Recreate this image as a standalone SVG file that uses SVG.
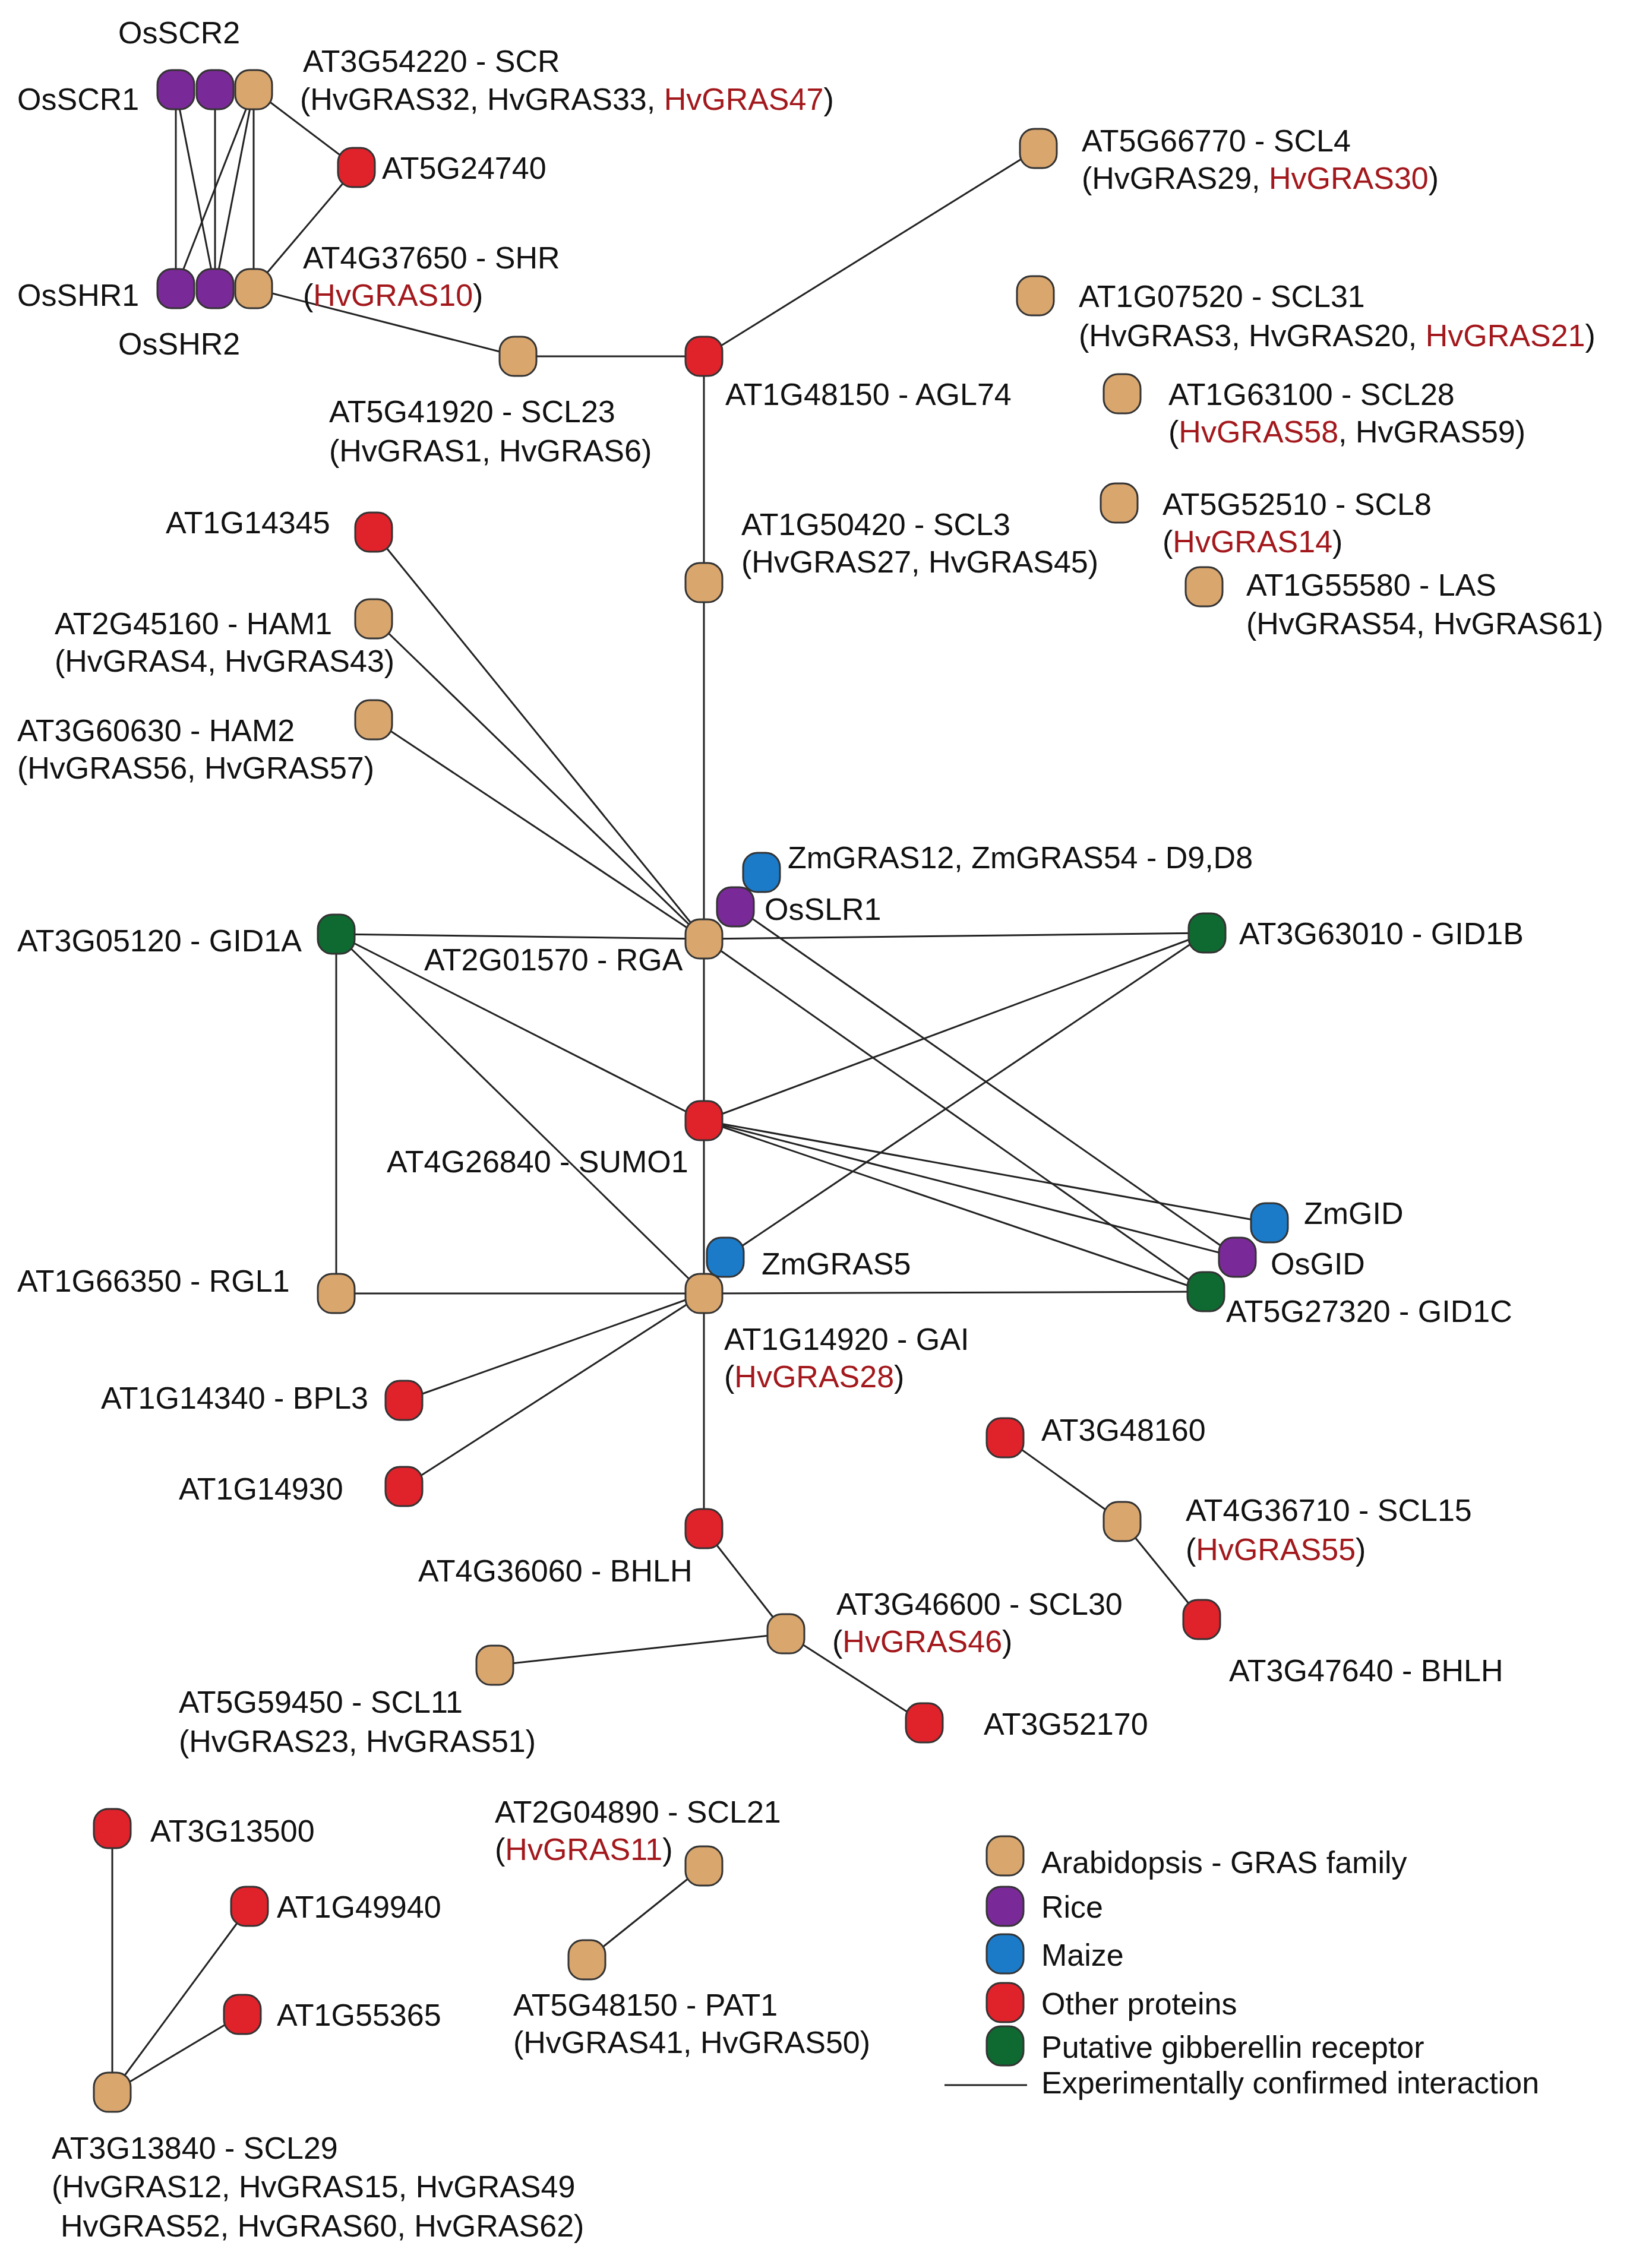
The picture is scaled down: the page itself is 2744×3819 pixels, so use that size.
<svg xmlns="http://www.w3.org/2000/svg" width="2744" height="3819" viewBox="0 0 2744 3819">
<style>
text{font-family:"Liberation Sans",Arial,sans-serif;font-size:52px;fill:#111}
.h{fill:#a3181c}
.n{stroke:#333;stroke-width:3}
.t{fill:#d9a66e}.p{fill:#7a2a98}.b{fill:#1b7bc9}.r{fill:#e0222b}.g{fill:#0e6a30}
#edges line{stroke:#222;stroke-width:3}
</style>
<defs><rect id="nd" x="-31" y="-33" width="62" height="66" rx="24"/></defs>
<rect width="2744" height="3819" fill="#fff"/>
<g id="edges">
<line x1="296" y1="151" x2="296" y2="486"/><line x1="296" y1="151" x2="362" y2="486"/>
<line x1="362" y1="151" x2="362" y2="486"/><line x1="427" y1="151" x2="296" y2="486"/>
<line x1="427" y1="151" x2="362" y2="486"/><line x1="427" y1="151" x2="427" y2="486"/>
<line x1="427" y1="151" x2="600" y2="282"/><line x1="600" y1="282" x2="427" y2="486"/>
<line x1="427" y1="486" x2="872" y2="600"/><line x1="872" y1="600" x2="1185" y2="600"/>
<line x1="1185" y1="600" x2="1748" y2="250"/><line x1="1185" y1="600" x2="1185" y2="2574"/>
<line x1="629" y1="896" x2="1185" y2="1581"/><line x1="629" y1="1042" x2="1185" y2="1581"/>
<line x1="629" y1="1212" x2="1185" y2="1581"/>
<line x1="566" y1="1573" x2="1185" y2="1581"/><line x1="1185" y1="1581" x2="2032" y2="1571"/>
<line x1="566" y1="1573" x2="1185" y2="1887"/><line x1="566" y1="1573" x2="1185" y2="2178"/>
<line x1="566" y1="1573" x2="566" y2="2178"/>
<line x1="1185" y1="1887" x2="2032" y2="1571"/><line x1="1185" y1="1887" x2="2137" y2="2059"/>
<line x1="1185" y1="1887" x2="2083" y2="2117"/><line x1="1185" y1="1887" x2="2030" y2="2175"/>
<line x1="1185" y1="1581" x2="2030" y2="2175"/><line x1="1238" y1="1527" x2="2083" y2="2117"/>
<line x1="1221" y1="2117" x2="2032" y2="1571"/>
<line x1="566" y1="2178" x2="1185" y2="2178"/><line x1="1185" y1="2178" x2="2030" y2="2175"/>
<line x1="1185" y1="2178" x2="680" y2="2358"/><line x1="1185" y1="2178" x2="680" y2="2503"/>
<line x1="1185" y1="2574" x2="1323" y2="2751"/><line x1="1323" y1="2751" x2="833" y2="2804"/>
<line x1="1323" y1="2751" x2="1556" y2="2901"/>
<line x1="1692" y1="2421" x2="1889" y2="2562"/><line x1="1889" y1="2562" x2="2023" y2="2727"/>
<line x1="189" y1="3523" x2="189" y2="3079"/><line x1="189" y1="3523" x2="420" y2="3210"/>
<line x1="189" y1="3523" x2="408" y2="3392"/>
<line x1="1185" y1="3142" x2="988" y2="3300"/>
<line x1="1590" y1="3511" x2="1729" y2="3511"/>
</g>
<g id="OsSCR1"><use href="#nd" class="n p" x="296" y="151"/><text x="29" y="185">OsSCR1</text></g>
<g id="OsSCR2"><use href="#nd" class="n p" x="362" y="151"/><text x="199" y="73">OsSCR2</text></g>
<g id="SCR"><use href="#nd" class="n t" x="427" y="151"/><text x="510" y="121">AT3G54220 - SCR</text><text x="505" y="185">(HvGRAS32, HvGRAS33, <tspan class="h">HvGRAS47</tspan>)</text></g>
<g id="OsSHR1"><use href="#nd" class="n p" x="296" y="486"/><text x="29" y="515">OsSHR1</text></g>
<g id="OsSHR2"><use href="#nd" class="n p" x="362" y="486"/><text x="199" y="597">OsSHR2</text></g>
<g id="SHR"><use href="#nd" class="n t" x="427" y="486"/><text x="510" y="452">AT4G37650 - SHR</text><text x="510" y="515">(<tspan class="h">HvGRAS10</tspan>)</text></g>
<g id="AT5G24740"><use href="#nd" class="n r" x="600" y="282"/><text x="643" y="301">AT5G24740</text></g>
<g id="SCL23"><use href="#nd" class="n t" x="872" y="600"/><text x="554" y="711">AT5G41920 - SCL23</text><text x="554" y="777">(HvGRAS1, HvGRAS6)</text></g>
<g id="AGL74"><use href="#nd" class="n r" x="1185" y="600"/><text x="1221" y="682">AT1G48150 - AGL74</text></g>
<g id="SCL4"><use href="#nd" class="n t" x="1748" y="250"/><text x="1821" y="255">AT5G66770 - SCL4</text><text x="1821" y="318">(HvGRAS29, <tspan class="h">HvGRAS30</tspan>)</text></g>
<g id="SCL31"><use href="#nd" class="n t" x="1743" y="498"/><text x="1816" y="517">AT1G07520 - SCL31</text><text x="1816" y="583">(HvGRAS3, HvGRAS20, <tspan class="h">HvGRAS21</tspan>)</text></g>
<g id="SCL28"><use href="#nd" class="n t" x="1889" y="663"/><text x="1967" y="682">AT1G63100 - SCL28</text><text x="1967" y="745">(<tspan class="h">HvGRAS58</tspan>, HvGRAS59)</text></g>
<g id="SCL8"><use href="#nd" class="n t" x="1884" y="847"/><text x="1957" y="867">AT5G52510 - SCL8</text><text x="1957" y="930">(<tspan class="h">HvGRAS14</tspan>)</text></g>
<g id="LAS"><use href="#nd" class="n t" x="2027" y="988"/><text x="2098" y="1003">AT1G55580 - LAS</text><text x="2098" y="1068">(HvGRAS54, HvGRAS61)</text></g>
<g id="AT1G14345"><use href="#nd" class="n r" x="629" y="896"/><text x="279" y="898">AT1G14345</text></g>
<g id="HAM1"><use href="#nd" class="n t" x="629" y="1042"/><text x="92" y="1068">AT2G45160 - HAM1</text><text x="92" y="1131">(HvGRAS4, HvGRAS43)</text></g>
<g id="HAM2"><use href="#nd" class="n t" x="629" y="1212"/><text x="29" y="1248">AT3G60630 - HAM2</text><text x="29" y="1311">(HvGRAS56, HvGRAS57)</text></g>
<g id="SCL3"><use href="#nd" class="n t" x="1185" y="981"/><text x="1248" y="901">AT1G50420 - SCL3</text><text x="1248" y="964">(HvGRAS27, HvGRAS45)</text></g>
<g id="ZmGRAS12"><use href="#nd" class="n b" x="1282" y="1469"/><text x="1326" y="1462">ZmGRAS12, ZmGRAS54 - D9,D8</text></g>
<g id="OsSLR1"><use href="#nd" class="n p" x="1238" y="1527"/><text x="1287" y="1549">OsSLR1</text></g>
<g id="RGA"><use href="#nd" class="n t" x="1185" y="1581"/><text x="714" y="1634">AT2G01570 - RGA</text></g>
<g id="GID1A"><use href="#nd" class="n g" x="566" y="1573"/><text x="29" y="1602">AT3G05120 - GID1A</text></g>
<g id="GID1B"><use href="#nd" class="n g" x="2032" y="1571"/><text x="2086" y="1590">AT3G63010 - GID1B</text></g>
<g id="SUMO1"><use href="#nd" class="n r" x="1185" y="1887"/><text x="651" y="1974">AT4G26840 - SUMO1</text></g>
<g id="ZmGID"><use href="#nd" class="n b" x="2137" y="2059"/><text x="2195" y="2061">ZmGID</text></g>
<g id="OsGID"><use href="#nd" class="n p" x="2083" y="2117"/><text x="2139" y="2146">OsGID</text></g>
<g id="GID1C"><use href="#nd" class="n g" x="2030" y="2175"/><text x="2064" y="2226">AT5G27320 - GID1C</text></g>
<g id="ZmGRAS5"><use href="#nd" class="n b" x="1221" y="2117"/><text x="1282" y="2146">ZmGRAS5</text></g>
<g id="GAI"><use href="#nd" class="n t" x="1185" y="2178"/><text x="1219" y="2273">AT1G14920 - GAI</text><text x="1219" y="2336">(<tspan class="h">HvGRAS28</tspan>)</text></g>
<g id="RGL1"><use href="#nd" class="n t" x="566" y="2178"/><text x="29" y="2175">AT1G66350 - RGL1</text></g>
<g id="BPL3"><use href="#nd" class="n r" x="680" y="2358"/><text x="170" y="2372">AT1G14340 - BPL3</text></g>
<g id="AT1G14930"><use href="#nd" class="n r" x="680" y="2503"/><text x="301" y="2525">AT1G14930</text></g>
<g id="BHLH1"><use href="#nd" class="n r" x="1185" y="2574"/><text x="704" y="2663">AT4G36060 - BHLH</text></g>
<g id="SCL30"><use href="#nd" class="n t" x="1323" y="2751"/><text x="1408" y="2719">AT3G46600 - SCL30</text><text x="1401" y="2782">(<tspan class="h">HvGRAS46</tspan>)</text></g>
<g id="SCL11"><use href="#nd" class="n t" x="833" y="2804"/><text x="301" y="2884">AT5G59450 - SCL11</text><text x="301" y="2950">(HvGRAS23, HvGRAS51)</text></g>
<g id="AT3G52170"><use href="#nd" class="n r" x="1556" y="2901"/><text x="1656" y="2921">AT3G52170</text></g>
<g id="AT3G48160"><use href="#nd" class="n r" x="1692" y="2421"/><text x="1753" y="2426">AT3G48160</text></g>
<g id="SCL15"><use href="#nd" class="n t" x="1889" y="2562"/><text x="1996" y="2561">AT4G36710 - SCL15</text><text x="1996" y="2627">(<tspan class="h">HvGRAS55</tspan>)</text></g>
<g id="AT3G47640"><use href="#nd" class="n r" x="2023" y="2727"/><text x="2069" y="2831">AT3G47640 - BHLH</text></g>
<g id="AT3G13500"><use href="#nd" class="n r" x="189" y="3079"/><text x="253" y="3101">AT3G13500</text></g>
<g id="AT1G49940"><use href="#nd" class="n r" x="420" y="3210"/><text x="466" y="3229">AT1G49940</text></g>
<g id="AT1G55365"><use href="#nd" class="n r" x="408" y="3392"/><text x="466" y="3411">AT1G55365</text></g>
<g id="SCL29"><use href="#nd" class="n t" x="189" y="3523"/><text x="87" y="3635">AT3G13840 - SCL29</text><text x="87" y="3700">(HvGRAS12, HvGRAS15, HvGRAS49</text><text x="102" y="3766">HvGRAS52, HvGRAS60, HvGRAS62)</text></g>
<g id="SCL21"><use href="#nd" class="n t" x="1185" y="3142"/><text x="833" y="3069">AT2G04890 - SCL21</text><text x="833" y="3132">(<tspan class="h">HvGRAS11</tspan>)</text></g>
<g id="PAT1"><use href="#nd" class="n t" x="988" y="3300"/><text x="864" y="3394">AT5G48150 - PAT1</text><text x="864" y="3457">(HvGRAS41, HvGRAS50)</text></g>
<g id="legend">
<use href="#nd" class="n t" x="1692" y="3125"/><text x="1753" y="3154">Arabidopsis - GRAS family</text>
<use href="#nd" class="n p" x="1692" y="3210"/><text x="1753" y="3229">Rice</text>
<use href="#nd" class="n b" x="1692" y="3290"/><text x="1753" y="3310">Maize</text>
<use href="#nd" class="n r" x="1692" y="3372"/><text x="1753" y="3392">Other proteins</text>
<use href="#nd" class="n g" x="1692" y="3445"/><text x="1753" y="3465">Putative gibberellin receptor</text>
<text x="1753" y="3525">Experimentally confirmed interaction</text>
</g>
</svg>
